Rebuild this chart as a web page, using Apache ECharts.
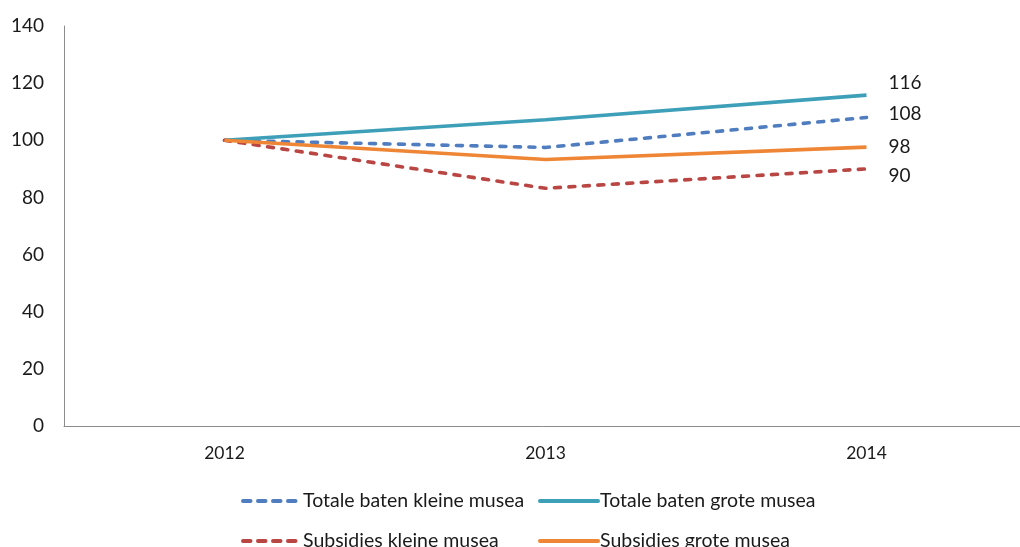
<!DOCTYPE html>
<html>
<head>
<meta charset="utf-8">
<script src="https://cdn.jsdelivr.net/npm/echarts@6/dist/echarts.min.js"></script>
<style>html,body{margin:0;padding:0;background:#fff}#c{width:1020px;height:547px}</style>
</head>
<body>
<div id="c"></div>
<script>
const categories = ['2012', '2013', '2014'];
const yTicks = [0, 20, 40, 60, 80, 100, 120, 140];
const totaleKlein = [100, 97.5, 108];
const totaleGroot = [100, 107.2, 115.8];
const subsidiesKlein = [100, 83.2, 90];
const subsidiesGroot = [100, 93.3, 97.6];
const endLabels = ['108', '116', '90', '98'];

const FONT = 'Lato';
const txt = '#1a1a1a';

function mkSeries(name, data, color, dashed, label, offY) {
  return {
    name, type: 'line', data, symbol: 'none', showSymbol: false, smooth: false,
    lineStyle: dashed ? { color, width: 3.6, type: [6, 8.5], cap: 'round' } : { color, width: 3.6 },
    itemStyle: { color },
    endLabel: {
      show: true, distance: 22, offset: [0, offY],
      fontFamily: FONT, fontSize: 19, color: txt,
      formatter: () => label
    },
    emphasis: { disabled: true }
  };
}

function mkLegend(name, left, top, dashed) {
  return {
    data: [name], left, top, itemWidth: 58, itemHeight: 14, itemGap: 0,
    itemStyle: { opacity: 0 },
    lineStyle: dashed ? { width: 4, type: [7.5, 7.5], cap: 'round' } : { width: 4, cap: 'round' },
    textStyle: { fontFamily: FONT, fontSize: 19.5, color: txt, padding: [0, 0, 0, -3] },
    selectedMode: false
  };
}

const chart = echarts.init(document.getElementById('c'));
chart.setOption({
  animation: false,
  grid: { left: 64, width: 963, top: 26, bottom: 121, containLabel: false, outerBoundsMode: 'none' },
  xAxis: {
    type: 'category', data: categories, boundaryGap: true,
    axisLine: { lineStyle: { color: '#8c8c8c', width: 1 } },
    axisTick: { show: false },
    axisLabel: { fontFamily: FONT, fontSize: 17.5, color: txt, margin: 18 }
  },
  yAxis: {
    type: 'value', min: yTicks[0], max: yTicks[yTicks.length - 1], interval: 20,
    axisLine: { show: true, lineStyle: { color: '#8c8c8c', width: 1 } },
    axisTick: { show: false },
    splitLine: { show: false },
    axisLabel: { fontFamily: FONT, fontSize: 19, color: txt, margin: 20 }
  },
  legend: [
    mkLegend('Totale baten kleine musea', 236, 486, true),
    mkLegend('Totale baten grote musea', 533, 486, false),
    mkLegend('Subsidies kleine musea', 236, 526, true),
    mkLegend('Subsidies grote musea', 533, 526, false)
  ],
  series: [
    mkSeries('Totale baten kleine musea', totaleKlein, '#4F7DBF', true, endLabels[0], -4),
    mkSeries('Totale baten grote musea', totaleGroot, '#3E9FB8', false, endLabels[1], -12),
    mkSeries('Subsidies kleine musea', subsidiesKlein, '#BA4644', true, endLabels[2], 7),
    mkSeries('Subsidies grote musea', subsidiesGroot, '#EE8636', false, endLabels[3], 0)
  ]
});
</script>
</body>
</html>
